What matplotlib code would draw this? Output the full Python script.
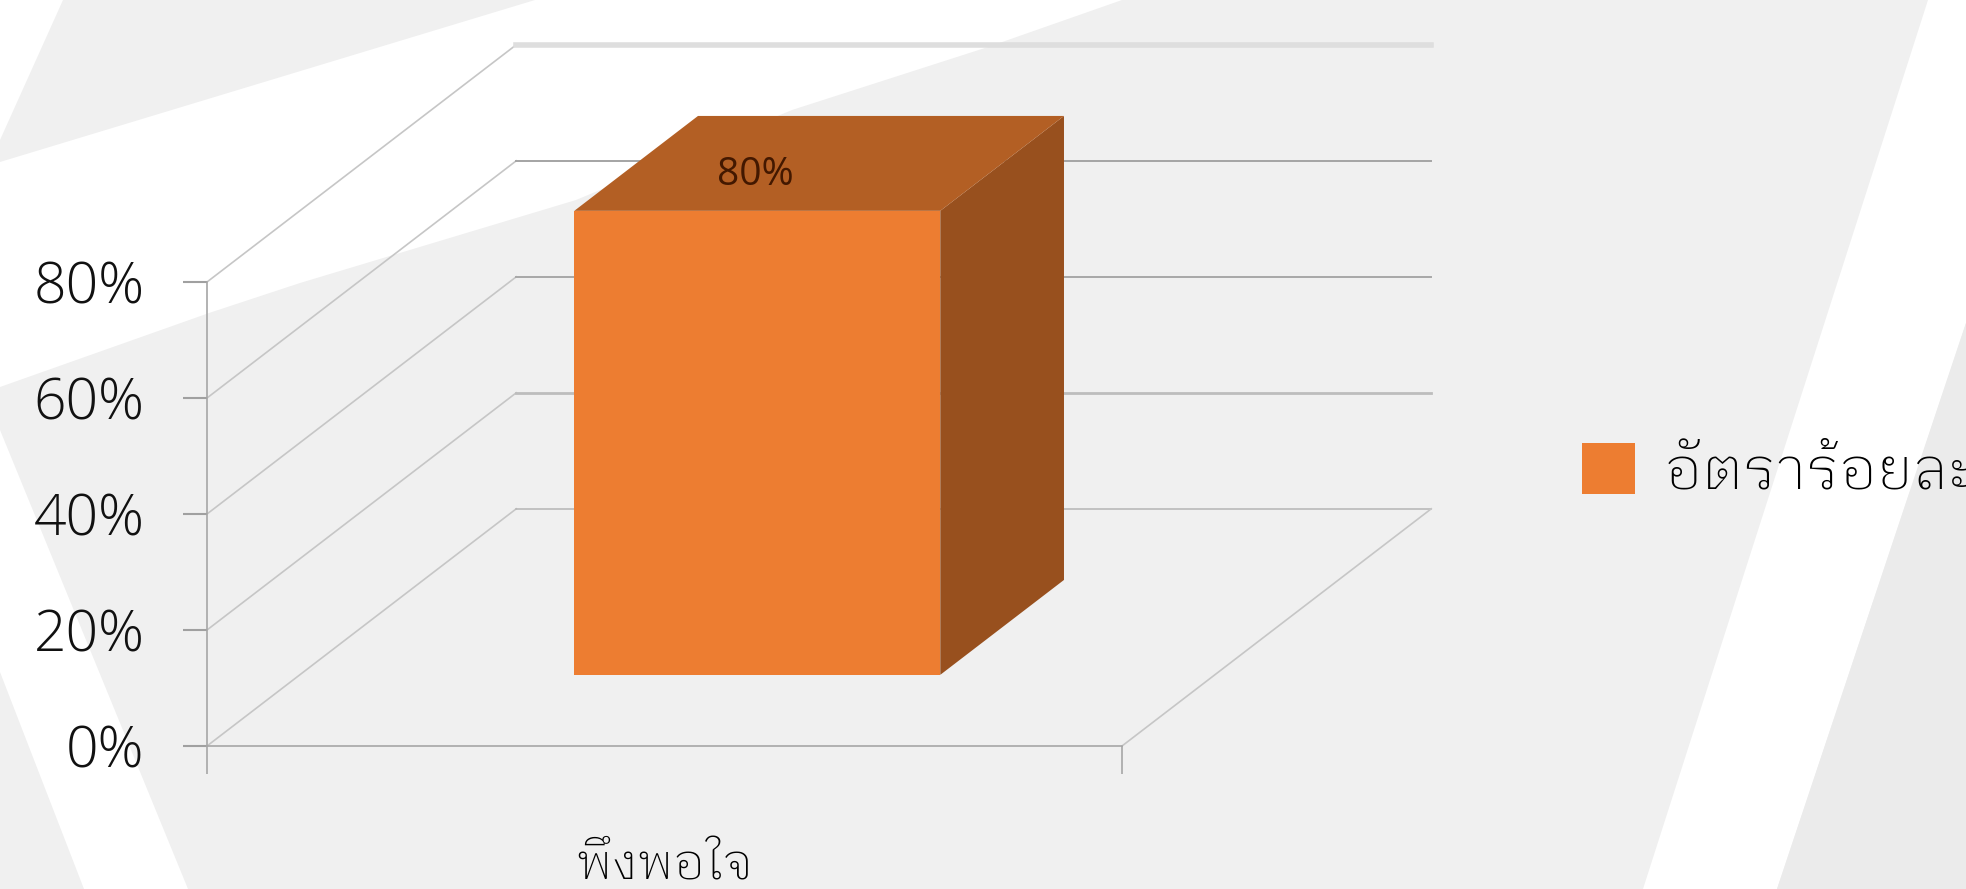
import matplotlib
matplotlib.use('Agg')
import matplotlib.pyplot as plt
from matplotlib.patches import Patch, Polygon

# chart values
categories = ['พึงพอใจ']
series_name = 'อัตราร้อยละ'
values = [80]
y_ticks = [0, 20, 40, 60, 80]
y_labels = ['0%', '20%', '40%', '60%', '80%']

W, H = 1966, 889

plt.rcParams['font.family'] = ['IBM Plex Sans Thai Looped', 'DejaVu Sans']

fig = plt.figure(figsize=(W / 100, H / 100), dpi=100, facecolor='#F0F0F0')

# background bands, in pixels
bg = fig.add_axes([0, 0, 1, 1], zorder=0)
bg.set_xlim(0, W)
bg.set_ylim(H, 0)
bg.axis('off')
bg.add_patch(Polygon([(0, 0), (63, 0), (0, 140)], color='white', lw=0))
bg.add_patch(Polygon([(0, 162), (535, 0), (1122, 0), (988, 47), (792, 110), (576, 200), (300, 283), (209, 313), (0, 387)], color='white', lw=0))
bg.add_patch(Polygon([(0, 430), (188, 889), (84, 889), (0, 672)], color='white', lw=0))
bg.add_patch(Polygon([(1928, 0), (1966, 0), (1966, 323), (1777, 889), (1643, 889)], color='white', lw=0))
bg.add_patch(Polygon([(1966, 323), (1966, 889), (1777, 889)], color='#EBEBEB', lw=0))

# front plane of the 3d box
ax = fig.add_axes([207 / W, (H - 746) / H, 915 / W, 464 / H], zorder=1)
ax.patch.set_visible(False)
ax.set_xlim(0, 1)
ax.set_ylim(0, 80)

depth_x = 0.338
depth_y = 40.9


def proj(x, v, d):
    return x + d * depth_x, v + d * depth_y


# walls and gridlines
grid_col = ['#B4B4B4', '#BDBDBD', '#A8A8A8', '#A4A4A4', '#DEDEDE']
grid_lw = [1.1, 2.0, 1.4, 1.4, 4.0]
for v, c, lw in zip(y_ticks, grid_col, grid_lw):
    x0, y0 = proj(0, v, 0)
    x1, y1 = proj(0, v, 1)
    x2, y2 = proj(1, v, 1)
    ax.plot([x0, x1], [y0, y1], color='#C6C6C6', lw=1.2, clip_on=False, zorder=1)
    ax.plot([x1, x2], [y1, y2], color=c, lw=lw, clip_on=False, zorder=1)
x0, y0 = proj(1, 0, 0)
x1, y1 = proj(1, 0, 1)
ax.plot([x0, x1], [y0, y1], color='#C6C6C6', lw=1.2, clip_on=False, zorder=1)

# the bar, 3 faces
bar_w = 0.4
d0, d1 = 0.3, 0.7
for i, v in enumerate(values):
    left = i + 0.5 - bar_w / 2
    right = i + 0.5 + bar_w / 2
    front = [proj(left, 0, d0), proj(right, 0, d0), proj(right, v, d0), proj(left, v, d0)]
    top = [proj(left, v, d0), proj(right, v, d0), proj(right, v, d1), proj(left, v, d1)]
    side = [proj(right, 0, d0), proj(right, 0, d1), proj(right, v, d1), proj(right, v, d0)]
    ax.add_patch(Polygon(side, color='#98501E', lw=0, clip_on=False, zorder=3))
    ax.add_patch(Polygon(top, color='#B35F24', lw=0, clip_on=False, zorder=3))
    ax.add_patch(Polygon(front, color='#ED7D31', lw=0, clip_on=False, zorder=4))
    lx, ly = proj(i + 0.5, v, 0.5)
    ax.text(lx - 0.07, ly - 2, f'{v}%', ha='center', va='center', fontsize=28, color='#431800', zorder=5,
            family=['Open Sans'])

# axes
for s in ['top', 'right']:
    ax.spines[s].set_visible(False)
for s in ['left', 'bottom']:
    ax.spines[s].set_color('#A6A6A6')
    ax.spines[s].set_linewidth(1.2)
ax.set_yticks(y_ticks)
ax.set_yticklabels(y_labels, family=['Open Sans'], fontweight='light')
ax.tick_params(axis='y', length=17, width=1.5, color='#A0A0A0', pad=28, labelsize=41, labelcolor='#111111')
ax.set_xticks([0, 1])
ax.set_xticklabels(['', ''])
ax.tick_params(axis='x', length=20, width=1.1, color='#A0A0A0')
ax.text(0.5, -0.287, categories[0], transform=ax.transAxes, ha='center', va='baseline', fontsize=36,
        color='black', fontweight='light')

leg = fig.legend(handles=[Patch(color='#ED7D31', lw=0)], labels=[series_name], loc='center left',
                 bbox_to_anchor=(1582 / W, 1 - 472 / H), frameon=False, handlelength=0.89,
                 handleheight=0.93, handletextpad=0.5, borderpad=0, borderaxespad=0, labelcolor='black',
                 prop={'weight': 'light', 'size': 43})

fig.savefig('out.png', dpi=100)
